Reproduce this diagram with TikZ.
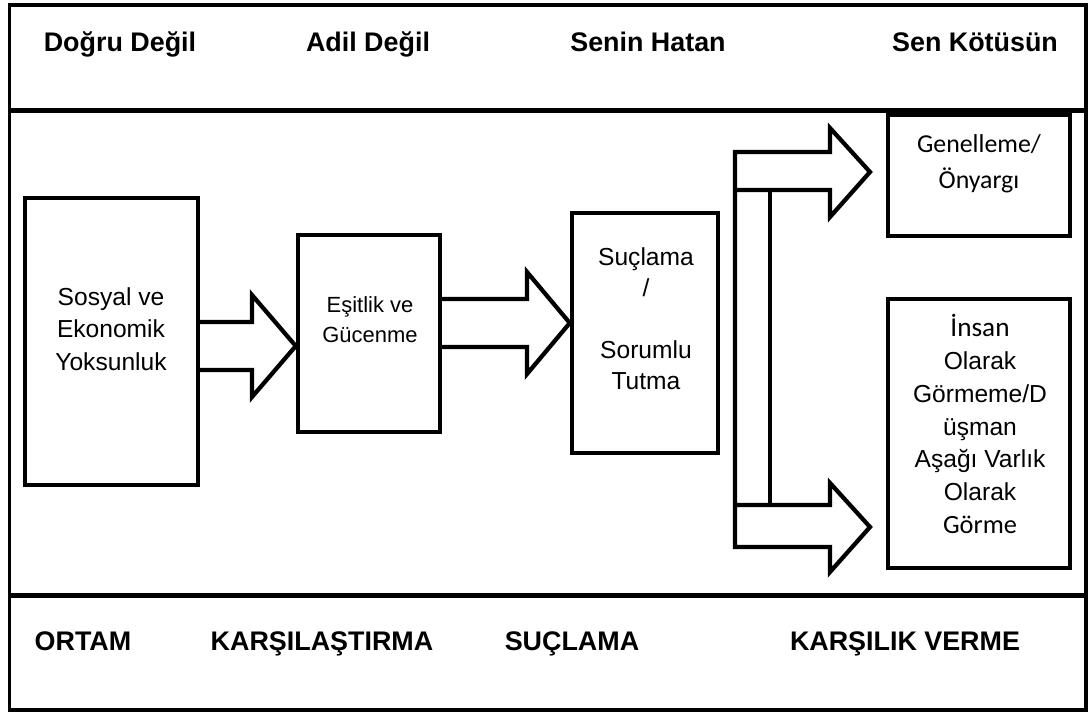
\documentclass[tikz,border=0pt]{standalone}
\usepackage{fontspec}
\setmainfont{Liberation Sans}
\newfontfamily\calib{Carlito}
\usetikzlibrary{positioning, calc}

\begin{document}
\begin{tikzpicture}[
        x=0.02cm, y=-0.02cm,
        line join=miter,
        box/.style={draw, line width=0.09cm, rectangle, inner sep=0pt},
        blk/.style={draw, line width=0.085cm},
        frame/.style={draw, line width=0.07cm},
        band/.style={draw, line width=0.1cm},
        head/.style={font=\bfseries\fontsize{15.3}{17}\selectfont, inner sep=0pt, anchor=base},
        txt/.style={align=center, inner sep=0pt, font=\fontsize{14}{18.4}\selectfont},
    ]
    \useasboundingbox (0,0) rectangle (1089,713);

    % Draw the frame and the bands
    \draw[frame] (9.5,5) rectangle (1086,710);
    \draw[band] (9.5,111) -- (1086,111);
    \draw[band] (9.5,595) -- (1086,595);

    % Band labels
    \foreach \name/\x/\lbl in {1/120/Doğru Değil, 2/368/Adil Değil, 3/648/Senin Hatan, 4/975/Sen Kötüsün}
        \node[head] (T-\name) at (\x,52) {\lbl};
    \foreach \name/\x/\lbl in {1/83/ORTAM, 2/322/KARŞILAŞTIRMA, 3/572/SUÇLAMA, 4/905/KARŞILIK VERME}
        \node[head] (L-\name) at (\x,650) {\lbl};

    % Draw the boxes
    \node[box, minimum width=3.46cm, minimum height=5.74cm] (B-1) at (111.5,341.5) {};
    \node[box, minimum width=2.84cm, minimum height=3.94cm] (B-2) at (369,333.5) {};
    \node[box, minimum width=2.92cm, minimum height=4.8cm] (B-3) at (645,333) {};
    \node[box, minimum width=3.64cm, minimum height=2.42cm] (B-4) at (979,175.5) {};
    \node[box, minimum width=3.64cm, minimum height=5.38cm] (B-5) at (979,433.5) {};

    % Texts of the boxes
    \node[txt] (S-1) at (111,329) {Sosyal ve\\Ekonomik\\Yoksunluk};
    \node[txt, font=\fontsize{12.5}{17}\selectfont] (S-2) at (370,320) {Eşitlik ve\\Gücenme};
    \node[txt, font=\fontsize{14}{17.6}\selectfont] (S-3) at (646,319) {Suçlama\\/\\[17.6pt]Sorumlu\\Tutma};
    \node[txt, font=\calib\fontsize{14.7}{20.4}\selectfont] (S-4) at (979,164) {Genelleme/\\Önyargı};
    \node[txt, font=\fontsize{14}{18.7}\selectfont] (S-5) at (980,424)
        {{\calib\fontsize{15.5}{18.7}\selectfont İnsan}\\Olarak\\Görmeme/D\\üşman\\Aşağı Varlık\\Olarak\\{\calib\fontsize{15}{18.7}\selectfont Görme}};

    % Block arrows from box to box
    \foreach \src/\dst/\y/\h in {B-1/B-2/346/252, B-2/B-3/323/527}
        \draw[blk] (\src.east |- 0,\y-24) -- (\h,\y-24) -- (\h,\y-51) -- (\dst.west |- 0,\y)
            -- (\h,\y+51) -- (\h,\y+24) -- (\src.east |- 0,\y+24);

    % The fork towards the two right boxes
    \draw[blk] (735,190) -- (830,190) -- (830,217) -- (870,172) -- (830,128) -- (830,152)
        -- (735,152) -- (735,547) -- (830,547) -- (830,572) -- (870,527) -- (830,483)
        -- (830,505) -- (735,505);
    \draw[blk] (770,190) -- (770,505);
\end{tikzpicture}
\end{document}
